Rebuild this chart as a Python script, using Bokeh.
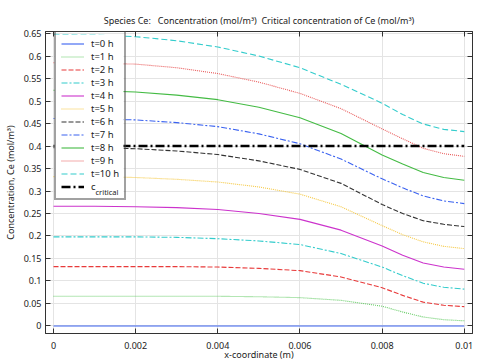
from bokeh.plotting import figure
from bokeh.models import (Range1d, FixedTicker, LinearAxis, CustomJSTickFormatter, Legend,
                          LegendItem, Label, BoxAnnotation)
from bokeh.embed import file_html
from bokeh.resources import INLINE

# ---- data ----
x_m = [0.0, 0.001, 0.002, 0.003, 0.004, 0.005, 0.006, 0.007, 0.008, 0.0085, 0.009, 0.0095, 0.01]
c_t0 = [0.0] * 13
c_t1 = [0.066, 0.066, 0.066, 0.066, 0.066, 0.065, 0.063, 0.057, 0.044, 0.031, 0.020, 0.014, 0.0115]
c_t2 = [0.132, 0.132, 0.132, 0.132, 0.131, 0.128, 0.123, 0.109, 0.085, 0.068, 0.053, 0.046, 0.043]
c_t3 = [0.198, 0.198, 0.198, 0.197, 0.194, 0.189, 0.181, 0.161, 0.131, 0.112, 0.095, 0.086, 0.082]
c_t4 = [0.266, 0.266, 0.265, 0.263, 0.259, 0.250, 0.237, 0.213, 0.178, 0.157, 0.140, 0.131, 0.126]
c_t5 = [0.332, 0.332, 0.330, 0.326, 0.320, 0.309, 0.293, 0.265, 0.223, 0.203, 0.187, 0.177, 0.172]
c_t6 = [0.396, 0.396, 0.394, 0.389, 0.381, 0.367, 0.348, 0.317, 0.270, 0.250, 0.234, 0.226, 0.221]
c_t7 = [0.461, 0.460, 0.458, 0.452, 0.443, 0.427, 0.405, 0.371, 0.327, 0.307, 0.289, 0.278, 0.272]
c_t8 = [0.524, 0.523, 0.520, 0.513, 0.503, 0.486, 0.463, 0.428, 0.380, 0.360, 0.341, 0.330, 0.324]
c_t9 = [0.585, 0.584, 0.582, 0.574, 0.561, 0.542, 0.517, 0.483, 0.438, 0.416, 0.395, 0.383, 0.377]
c_t10 = [0.648, 0.647, 0.643, 0.634, 0.620, 0.600, 0.574, 0.537, 0.495, 0.470, 0.449, 0.437, 0.432]
series = [c_t0, c_t1, c_t2, c_t3, c_t4, c_t5, c_t6, c_t7, c_t8, c_t9, c_t10]
labels = ["t=0 h", "t=1 h", "t=2 h", "t=3 h", "t=4 h", "t=5 h", "t=6 h", "t=7 h", "t=8 h", "t=9 h", "t=10 h"]
c_critical = 0.4
x_ticks = [0, 0.002, 0.004, 0.006, 0.008, 0.01]
y_ticks = [0, 0.05, 0.1, 0.15, 0.2, 0.25, 0.3, 0.35, 0.4, 0.45, 0.5, 0.55, 0.6, 0.65]

colors = ["#3a62f0", "#66cc66", "#e83a3a", "#33cccc", "#cc33cc", "#f5c842", "#333333",
          "#3a62f0", "#44bb44", "#e85a5a", "#33cccc"]
dashes = ["solid", "1 1", "5 2", "6 2 2 2", "solid", "1 1", "5 2", "6 2 2 2", "solid", "1 1", "6 3"]

FONT = "Noto Sans"
NB = "\u00a0"

p = figure(frame_width=427, frame_height=302, output_backend="svg", toolbar_location=None,
           x_range=Range1d(-0.000195, 0.0102), y_range=Range1d(-0.0167, 0.6545),
           min_border_left=39, min_border_right=8, min_border_top=31, min_border_bottom=10,
           title=f"Species Ce:{NB}{NB}{NB}Concentration (mol/m³){NB}{NB}Critical concentration of Ce (mol/m³)")
p.title.align = "center"
p.title.text_font = FONT
p.title.text_font_size = "9px"
p.title.text_font_style = "normal"
p.title.text_color = "#222222"
p.title.standoff = 10
p.outline_line_color = "#333333"
p.outline_line_width = 1
p.background_fill_color = "white"
p.border_fill_color = "white"

fmt = CustomJSTickFormatter(code="return String(parseFloat(tick.toFixed(4)));")

for ax, ticks in ((p.xaxis[0], x_ticks), (p.yaxis[0], y_ticks)):
    ax.ticker = FixedTicker(ticks=ticks)
    ax.formatter = fmt
    ax.major_tick_in = 5
    ax.major_tick_out = 0
    ax.minor_tick_line_color = None
    ax.axis_line_color = "#333333"
    ax.major_tick_line_color = "#333333"
    ax.major_label_text_font = FONT
    ax.major_label_text_font_size = "9px"
    ax.major_label_text_color = "#222222"
    ax.axis_label_text_font = FONT
    ax.axis_label_text_font_size = "9px"
    ax.axis_label_text_font_style = "normal"
    ax.axis_label_text_color = "#222222"
    ax.major_label_standoff = 4
    ax.axis_label_standoff = 4

p.xaxis[0].axis_label = "x-coordinate (m)"
p.xaxis[0].axis_label_standoff = -4
p.xaxis[0].major_label_standoff = 8
p.yaxis[0].axis_label = "Concentration, Ce (mol/m³)"

for loc, ticks in (("right", y_ticks), ("above", x_ticks)):
    ax = LinearAxis(ticker=FixedTicker(ticks=ticks), major_tick_in=5, major_tick_out=0,
                    minor_tick_line_color=None, axis_line_color="#333333",
                    major_tick_line_color="#333333", major_label_text_font_size="0px",
                    major_label_text_color=None, major_label_standoff=0)
    p.add_layout(ax, loc)

p.xgrid.ticker = FixedTicker(ticks=x_ticks)
p.ygrid.ticker = FixedTicker(ticks=y_ticks)
p.xgrid.grid_line_color = "#e4e4e4"
p.ygrid.grid_line_color = "#e4e4e4"

items = []
for s, lab, col, d in zip(series, labels, colors, dashes):
    r = p.line(x_m, s, line_color=col, line_width=1.1, line_dash=d)
    items.append(LegendItem(label=lab, renderers=[r]))

rc = p.line([x_m[0], x_m[-1]], [c_critical, c_critical], line_color="black", line_width=2.5,
            line_dash="9 3 2 3")
items.append(LegendItem(label="c", renderers=[rc]))

# opaque backing for the legend (legend itself drawn transparent on top)
backing = BoxAnnotation(left=9, right=78, bottom=133, top=299,
                        left_units="screen", right_units="screen",
                        bottom_units="screen", top_units="screen",
                        fill_color="white", fill_alpha=1.0, line_color=None, level="annotation")
p.add_layout(backing)

leg = Legend(items=items, location=(9, 133))
leg.label_text_font = FONT
leg.label_text_font_size = "9.5px"
leg.label_text_color = "#222222"
leg.glyph_width = 23
leg.glyph_height = 13
leg.label_height = 13
leg.spacing = 0
leg.padding = 5
leg.label_standoff = 7
leg.border_line_color = "#444444"
leg.border_line_width = 2
leg.background_fill_alpha = 0
leg.margin = 0
p.add_layout(leg, "center")

sub = Label(x=50, y=137, x_units="screen", y_units="screen", level="overlay",
            text="critical", text_font=FONT, text_font_size="7.5px", text_color="#222222")
p.add_layout(sub)

open("out.html", "w").write(file_html(p, INLINE))
